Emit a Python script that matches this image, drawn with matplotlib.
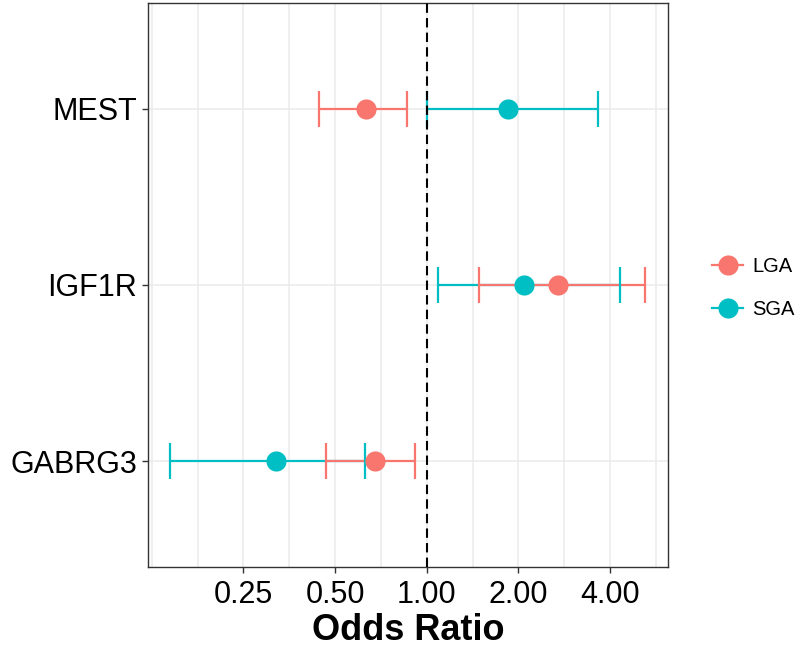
import matplotlib.pyplot as plt
from matplotlib.lines import Line2D
import numpy as np

plt.rcParams['font.family'] = ['Liberation Sans', 'DejaVu Sans']

# genes from bottom to top
genes = ['GABRG3', 'IGF1R', 'MEST']
groups = ['LGA', 'SGA']
colors = {'LGA': '#F8766D', 'SGA': '#00BFC4'}

# odds ratios and 95% CI
lga_or = [0.676, 2.70, 0.632]
lga_lo = [0.467, 1.48, 0.443]
lga_hi = [0.918, 5.19, 0.864]
sga_or = [0.320, 2.09, 1.853]
sga_lo = [0.144, 1.088, 1.00]
sga_hi = [0.627, 4.31, 3.64]

x_ticks = [0.25, 0.5, 1, 2, 4]
x_ticklabels = ['0.25', '0.50', '1.00', '2.00', '4.00']

fig = plt.figure(figsize=(8, 6.47), dpi=100)
ax = fig.add_axes([148/800, 1-567/647, 520/800, 564/647])

ax.set_xscale('log', base=2)
ax.set_xlim(2**-3.04, 2**2.632)
ax.set_ylim(0.4, 3.6)

# light grid every half doubling, plus one per gene
for g in 2.0**np.arange(-3, 3, 0.5):
    ax.axvline(g, color='#EBEBEB', lw=1.1, zorder=0)
for y in range(1, 4):
    ax.axhline(y, color='#EBEBEB', lw=1.1, zorder=0)

ypos = np.arange(1, len(genes)+1)
data = {'SGA': (sga_or, sga_lo, sga_hi), 'LGA': (lga_or, lga_lo, lga_hi)}

# horizontal ranges: SGA first so LGA sits on top
for grp in ['SGA', 'LGA']:
    est, lo, hi = data[grp]
    ax.hlines(ypos, lo, hi, color=colors[grp], lw=1.6, zorder=2)
for grp in ['LGA', 'SGA']:
    est, lo, hi = data[grp]
    ax.errorbar(est, ypos, xerr=[np.array(est)-np.array(lo), np.array(hi)-np.array(est)],
                fmt='none', ecolor=colors[grp], elinewidth=0, capsize=12.7, capthick=1.6, zorder=3)
for grp in ['LGA', 'SGA']:
    est, lo, hi = data[grp]
    ax.plot(est, ypos, 'o', color=colors[grp], ms=14.5, mec='none', zorder=4)

ax.axvline(1, color='black', lw=1.5, ls=(0, (4.5, 2.5)), zorder=5)

ax.set_xticks(x_ticks)
ax.set_xticklabels(x_ticklabels)
ax.xaxis.set_minor_locator(plt.NullLocator())
ax.set_yticks(ypos)
ax.set_yticklabels(genes)
ax.tick_params(axis='both', which='major', length=4.5, width=1, color='#333333',
               labelsize=22, labelcolor='black')
ax.tick_params(axis='y', pad=3.5)
ax.tick_params(axis='x', pad=5)
for s in ax.spines.values():
    s.set_color('#333333')
    s.set_linewidth(1)

ax.set_xlabel('Odds Ratio', fontsize=26, fontweight='bold', labelpad=2)

handles = [Line2D([0], [0], color=colors[g], lw=1.6, marker='o', ms=14.5, mec='none') for g in groups]
fig.legend(handles, groups, loc='center left', bbox_to_anchor=(712/800, 1-288/647),
           frameon=False, fontsize=14.5, handlelength=1.55, handletextpad=0.45,
           labelspacing=1.2, borderpad=0, borderaxespad=0)

fig.savefig('out.png', dpi=100)
